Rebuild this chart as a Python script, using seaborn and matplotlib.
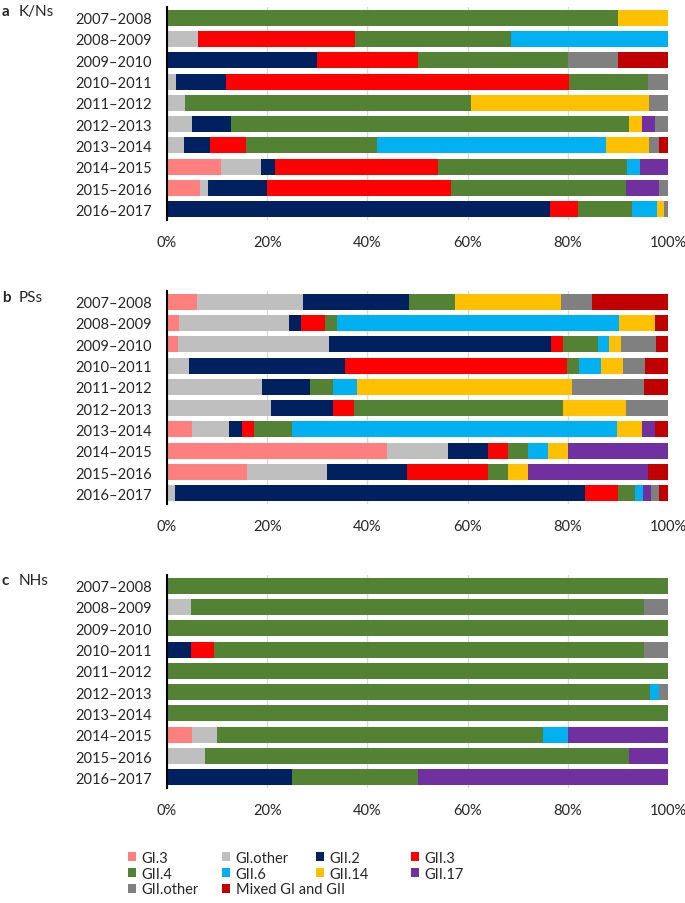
import numpy as np
import pandas as pd
import seaborn as sns
import matplotlib.pyplot as plt
from matplotlib.patches import Patch

# Seasons (rows) and genotype groups (stack order)
seasons = ["2007–2008", "2008–2009", "2009–2010", "2010–2011", "2011–2012",
           "2012–2013", "2013–2014", "2014–2015", "2015–2016", "2016–2017"]
genotypes = ["GI.3", "GI.other", "GII.2", "GII.3", "GII.4",
             "GII.6", "GII.14", "GII.17", "GII.other", "Mixed GI and GII"]

# Percent of outbreaks per genotype, one row per season (order as genotypes)
kn_shares = [
    [0, 0, 0, 0, 90, 0, 10, 0, 0, 0],
    [0, 6.25, 0, 31.25, 31.25, 31.25, 0, 0, 0, 0],
    [0, 0, 30, 20, 30, 0, 0, 0, 10, 10],
    [0, 1.8, 9.9, 68.6, 15.7, 0, 0, 0, 4.0, 0],
    [0, 3.5, 0, 0, 57.1, 0, 35.7, 0, 3.7, 0],
    [0, 5.0, 7.7, 0, 79.6, 0, 2.6, 2.5, 2.6, 0],
    [0, 3.3, 5.3, 7.1, 26.3, 45.7, 8.6, 0, 1.9, 1.8],
    [10.7, 8.1, 2.7, 32.5, 37.8, 2.7, 0, 5.5, 0, 0],
    [6.5, 1.7, 11.7, 36.7, 35.0, 0, 0, 6.7, 1.7, 0],
    [0, 0, 76.4, 5.7, 10.7, 5.1, 1.3, 0, 0.8, 0],
]
ps_shares = [
    [5.9, 21.3, 21.2, 0, 9.1, 0, 21.2, 0, 6.2, 15.1],
    [2.3, 22.0, 2.5, 4.8, 2.4, 56.3, 7.2, 0, 0, 2.5],
    [2.1, 30.3, 44.3, 2.4, 6.9, 2.3, 2.4, 0, 7.0, 2.3],
    [0, 4.3, 31.2, 44.4, 2.3, 4.5, 4.4, 0, 4.4, 4.5],
    [0, 18.9, 9.6, 0, 4.7, 4.8, 42.9, 0, 14.3, 4.8],
    [0, 20.7, 12.5, 4.2, 41.7, 0, 12.5, 0, 8.4, 0],
    [4.9, 7.5, 2.5, 2.5, 7.5, 65.0, 5.0, 2.6, 0, 2.5],
    [44, 12, 8, 4, 4, 4, 4, 20, 0, 0],
    [16, 16, 16, 16, 4, 0, 4, 24, 0, 4],
    [0, 1.5, 82.0, 6.6, 3.3, 1.7, 0, 1.6, 1.6, 1.7],
]
nh_shares = [
    [0, 0, 0, 0, 100, 0, 0, 0, 0, 0],
    [0, 4.7, 0, 0, 90.5, 0, 0, 0, 4.8, 0],
    [0, 0, 0, 0, 100, 0, 0, 0, 0, 0],
    [0, 0, 4.7, 4.7, 85.8, 0, 0, 0, 4.8, 0],
    [0, 0, 0, 0, 100, 0, 0, 0, 0, 0],
    [0, 0, 0, 0, 96.5, 1.8, 0, 0, 1.7, 0],
    [0, 0, 0, 0, 100, 0, 0, 0, 0, 0],
    [5, 5, 0, 0, 65, 5, 0, 20, 0, 0],
    [0, 7.5, 0, 0, 84.8, 0, 0, 7.7, 0, 0],
    [0, 0, 25, 0, 25, 0, 0, 50, 0, 0],
]
x_ticks = [0, 20, 40, 60, 80, 100]

colors = ["#FF7F7F", "#BFBFBF", "#002060", "#FF0000", "#548235",
          "#00B0F0", "#FFC000", "#7030A0", "#808080", "#C00000"]

sns.set_style("white")
plt.rcParams['font.family'] = ['Lato', 'DejaVu Sans']

fig = plt.figure(figsize=(6.85, 9.04), dpi=100)

panels = [("a", "K/Ns", kn_shares, 0.7555, 12),
          ("b", "PSs", ps_shares, 0.4414, 298),
          ("c", "NHs", nh_shares, 0.1272, 581)]

for letter, name, shares, bottom, label_y in panels:
    ax = fig.add_axes([0.2438, bottom, 0.7314, 0.2356])
    df = pd.DataFrame(shares, columns=genotypes, index=seasons)
    df = df.div(df.sum(axis=1), axis=0) * 100
    cum = df.cumsum(axis=1)
    # draw cumulative bars from the longest down so segments stack
    for g, c in reversed(list(zip(genotypes, colors))):
        sns.barplot(x=cum[g].values, y=seasons, color=c, saturation=1,
                    width=0.75, orient="h", ax=ax, linewidth=0)
    ax.set_xlim(0, 100)
    ax.set_xticks(x_ticks)
    ax.set_xticklabels([f"{t}%" for t in x_ticks], fontsize=10.5)
    ax.tick_params(axis="y", length=0, pad=11, labelsize=10.5)
    ax.tick_params(axis="x", length=0, pad=11)
    ax.set_xlabel("")
    ax.set_ylabel("")
    ax.xaxis.grid(True, color="#D9D9D9", linewidth=1)
    ax.set_axisbelow(True)
    for s in ["top", "right", "bottom"]:
        ax.spines[s].set_visible(False)
    ax.spines["left"].set_color("black")
    ax.spines["left"].set_linewidth(1.5)

    y = 1 - label_y / 904
    fig.text(2 / 685, y, letter, fontsize=11, weight="bold", va="center")
    fig.text(19 / 685, y, name, fontsize=11, va="center")

# legend: one small legend per column so the columns sit evenly spaced
handles = [Patch(facecolor=c, edgecolor="none", label=g)
           for g, c in zip(genotypes, colors)]
col_x = [128, 222, 316, 411]
for i, x in enumerate(col_x):
    idx = list(range(i, len(genotypes), 4))
    fig.legend([handles[j] for j in idx], [genotypes[j] for j in idx],
               loc="upper left", bbox_to_anchor=(x / 685, 1 - 852 / 904),
               frameon=False, fontsize=10.5, borderpad=0, borderaxespad=0,
               handlelength=0.55, handleheight=0.55, handletextpad=0.4,
               labelspacing=0.12)

fig.savefig("out.png", dpi=100)
